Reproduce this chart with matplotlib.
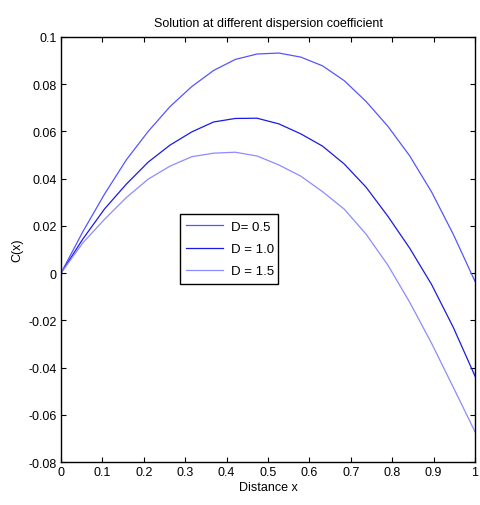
import matplotlib
matplotlib.use('Agg')
import matplotlib.pyplot as plt
import numpy as np
from matplotlib.ticker import FuncFormatter

# 20 grid nodes on [0, 1]
x = np.linspace(0, 1, 20)

c_d05 = [0, 0.0175, 0.0335, 0.048, 0.060, 0.0705, 0.079, 0.0858, 0.0905, 0.0928,
         0.0932, 0.0915, 0.0878, 0.0815, 0.0727, 0.0622, 0.0497, 0.0345, 0.0165, -0.0035]
c_d10 = [0, 0.0144, 0.0272, 0.0377, 0.047, 0.0542, 0.0598, 0.064, 0.0655, 0.0656,
         0.0632, 0.059, 0.0538, 0.0462, 0.0364, 0.0241, 0.0106, -0.0047, -0.0229, -0.0436]
c_d15 = [0, 0.0128, 0.0228, 0.032, 0.0398, 0.0453, 0.0493, 0.0508, 0.0512, 0.0496,
         0.0458, 0.0411, 0.0345, 0.0271, 0.0165, 0.0034, -0.0123, -0.0296, -0.0483, -0.0672]

labels = ['D= 0.5', 'D = 1.0', 'D = 1.5']
colors = ['#5555ff', '#1a1ae6', '#8c8cff']

plt.rcParams['font.family'] = ['Liberation Sans', 'DejaVu Sans']

fig = plt.figure(figsize=(4.8, 5.06), dpi=100)
ax = fig.add_axes([61 / 480, 1 - 463 / 506, 414 / 480, 425 / 506])

for c, lab, col in zip([c_d05, c_d10, c_d15], labels, colors):
    ax.plot(x, c, color=col, linewidth=0.9, label=lab)

ax.set_xlim(0, 1)
ax.set_ylim(-0.08, 0.1)
ax.set_xticks(np.arange(0, 1.01, 0.1))
ax.set_yticks(np.arange(-0.08, 0.101, 0.02))
fmt = FuncFormatter(lambda v, _: '0' if abs(v) < 1e-9 else f'{v:g}')
ax.xaxis.set_major_formatter(fmt)
ax.yaxis.set_major_formatter(fmt)
ax.tick_params(direction='in', length=3.5, width=0.8, top=True, right=True,
               labelsize=9, pad=3)
for s in ax.spines.values():
    s.set_linewidth(1.0)

ax.set_title('Solution at different dispersion coefficient', fontsize=9, pad=8)
ax.set_xlabel('Distance x', fontsize=9, labelpad=2)
ax.set_ylabel('C(x)', fontsize=9, labelpad=4)

leg = ax.legend(loc='lower left', bbox_to_anchor=(0.287, 0.419, 0.237, 0.176),
                mode='expand', fancybox=False, framealpha=1, edgecolor='black',
                fontsize=9.5, handlelength=2.8, handletextpad=0.6,
                borderaxespad=0, borderpad=0.5, labelspacing=0.75)
leg.get_frame().set_linewidth(1.0)

fig.savefig('out.png', dpi=100)
